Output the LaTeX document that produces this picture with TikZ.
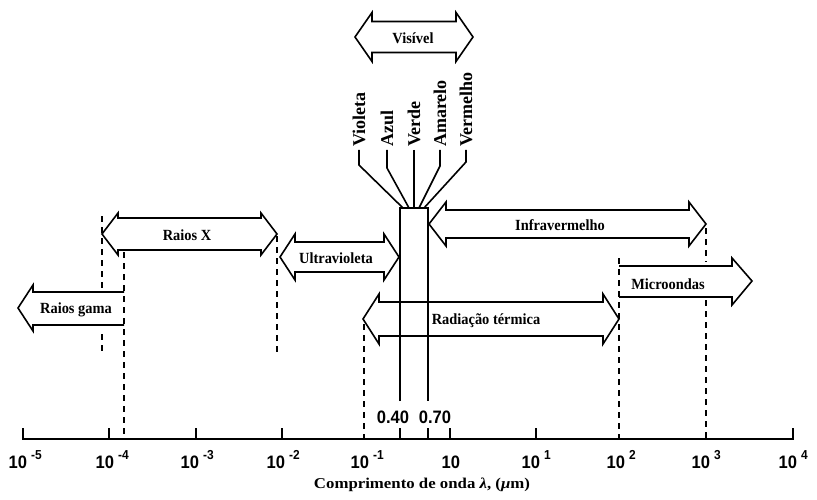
\documentclass[tikz,border=0pt]{standalone}
\usepackage{fontspec}
\setmainfont{Liberation Serif}
\newfontfamily\axf[FakeStretch=0.92]{Liberation Sans}
\newfontfamily\lblf[FakeStretch=0.93]{Liberation Serif}
\newfontfamily\ttlf[FakeStretch=1.12]{Liberation Serif}
\newcommand\mydblarrow[6]{% xl xr y bodyhalf headhalf headlen
  \draw[outl] (#1,#3) -- ({#1+#6},{#3-#5}) -- ({#1+#6},{#3-#4}) -- ({#2-#6},{#3-#4})
    -- ({#2-#6},{#3-#5}) -- (#2,#3) -- ({#2-#6},{#3+#5}) -- ({#2-#6},{#3+#4})
    -- ({#1+#6},{#3+#4}) -- ({#1+#6},{#3+#5}) -- cycle;}
\newcommand\pten[3]{\node[num] (#1) at (#2,468) {10\hspace{4pt}\raisebox{9pt}{\fontsize{13}{13}\selectfont #3}};}
\begin{document}
\begin{tikzpicture}[x=1pt,y=-1pt,line join=miter]
\tikzset{
  outl/.style={line width=1.6pt},
  guide/.style={line width=1.5pt,dash pattern=on 6pt off 5pt},
  lbl/.style={font=\lblf\fontsize{15.5}{16}\selectfont\bfseries,inner sep=0pt},
  vlbl/.style={font=\fontsize{18}{18}\selectfont\bfseries,rotate=90,anchor=west,inner sep=0pt},
  num/.style={font=\axf\bfseries\fontsize{18}{18}\selectfont,anchor=base west,inner sep=0pt},
  numc/.style={font=\axf\bfseries\fontsize{18}{18}\selectfont,anchor=base,inner sep=0pt},
}
\useasboundingbox (0,0) rectangle (817,500);

% ---- arrows ----
\mydblarrow{355}{473}{37}{15.5}{24.5}{17}
\node[lbl] (vis) at (413,38) {Visível};

\mydblarrow{102}{277}{234}{16}{21}{16}
\node[lbl] (rx) at (187,235) {Raios X};

\mydblarrow{280}{399}{257}{15}{23}{15}
\node[lbl] (uv) at (336,258) {Ultravioleta};

\mydblarrow{429}{706}{224}{14}{22}{17}
\node[lbl] (ir) at (560,225) {Infravermelho};

\mydblarrow{363}{619}{319}{17}{25}{16}
\node[lbl] (rt) at (486,321) {Radiação térmica};

% Raios gama (open right end)
\draw[outl] (124,292) -- (33,292) -- (33,285) -- (18,308) -- (33,331) -- (33,325) -- (124,325);
\node[lbl] (rg) at (76,310) {Raios gama};

% Microondas (open left end)
\draw[outl] (619,266) -- (732,266) -- (732,258) -- (752,281) -- (732,305) -- (732,297) -- (619,297);
\node[lbl] (mw) at (668,284) {Microondas};

% ---- visible box and colour fan ----
\coordinate (bxl) at (400,208);
\coordinate (bxr) at (428,208);
\coordinate (bxlb) at (400,401);
\coordinate (bxrb) at (428,401);
\draw[outl] (bxlb) -- (bxl) -- (bxr) -- (bxrb);

\node[vlbl] (vio) at (359,147) {Violeta};
\node[vlbl] (azu) at (387,147) {Azul};
\node[vlbl] (ver) at (414,147) {Verde};
\node[vlbl] (ama) at (440,147) {Amarelo};
\node[vlbl] (vrm) at (466,147) {Vermelho};
\draw[outl] (vio.west) ++(0,3) -- (359,165) -- (403,208);
\draw[outl] (azu.west) ++(0,3) -- (387,168) -- (409,208);
\draw[outl] (ver.west) ++(0,3) -- (414,208);
\draw[outl] (ama.west) ++(0,3) -- (440,166) -- (419,208);
\draw[outl] (vrm.west) ++(0,3) -- (466,162) -- (424,208);

% ---- dashed guides ----
\draw[guide] (102,216) -- (102,288);
\draw[guide] (102,334) -- (102,354);
\draw[guide] (124,252) -- (124,439);
\draw[guide] (277,236) -- (277,354);
\draw[guide] (364,324) -- (364,439);
\draw[guide] (619,258) -- (619,439);
\draw[guide] (706,228) -- (706,262);
\draw[guide] (706,300) -- (706,439);

% ---- axis ----
\draw[outl] (23,428) -- (23,439) -- (793,439) -- (793,428);
\foreach \t in {109,196,282,400,428,450,536}
  \draw[outl] (\t,428) -- (\t,439);

\pten{l5}{8.5}{-5}
\pten{l4}{95.5}{-4}
\pten{l3}{180.5}{-3}
\pten{l2}{266.5}{-2}
\pten{l1}{350.5}{-1}
\node[num] (l0) at (441.5,468) {10};
\pten{p1}{521.5}{1}
\pten{p2}{606.5}{2}
\pten{p3}{691.5}{3}
\pten{p4}{778.5}{4}

\node[numc] (v40) at (393,423) {0.40};
\node[numc] (v70) at (435,423) {0.70};

\node[font=\ttlf\fontsize{15}{16}\selectfont\bfseries,inner sep=0pt] (title) at (422,485) {Comprimento de onda \textit{λ}, (\textit{μ}m)};
\end{tikzpicture}
\end{document}
